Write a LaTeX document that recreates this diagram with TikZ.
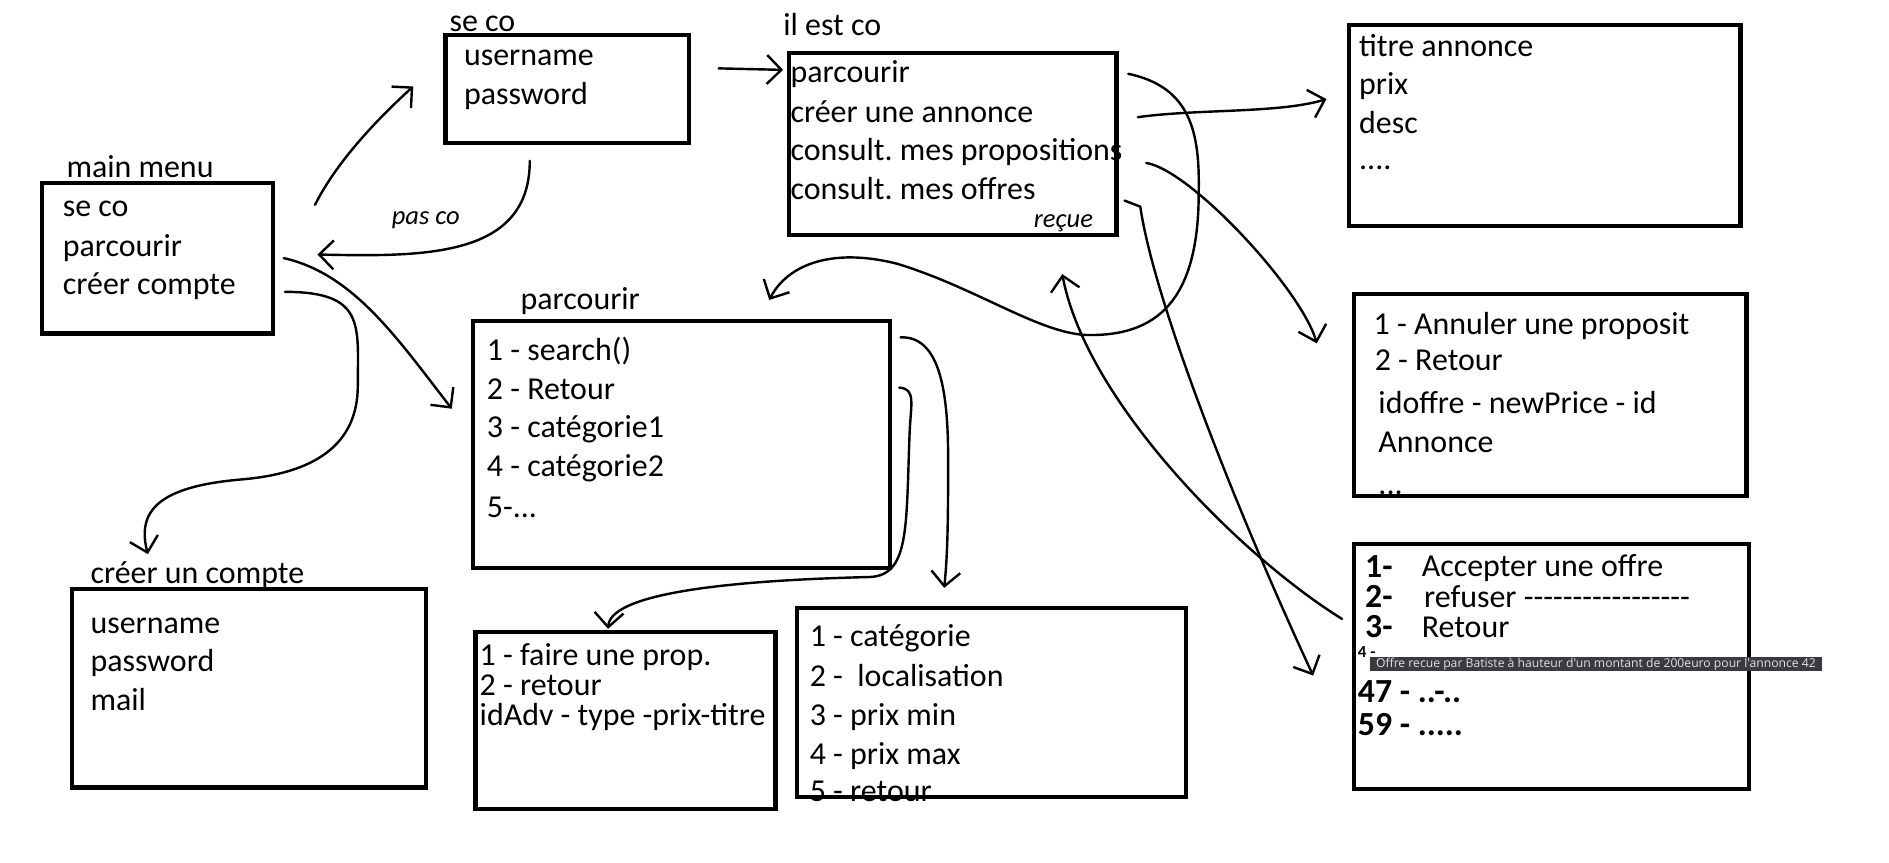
\documentclass[tikz,border=0pt]{standalone}
\usepackage{fontspec}
\setmainfont{Carlito}[Ligatures=TeXOff]
\newfontfamily\tipfont{Open Sans}
\usetikzlibrary{arrows.meta,positioning}
\tikzset{>/.tip={Straight Barb[length=12pt,width=24pt]}}
\definecolor{tipgray}{RGB}{58,59,63}
\definecolor{tiptext}{RGB}{225,225,225}

\begin{document}
\frenchspacing
\begin{tikzpicture}[x=1pt,y=-1pt,
  box/.style={draw,line width=3.5pt,anchor=north west,inner sep=0pt},
  item/.style={anchor=base west,inner sep=0pt,yshift=-8.5pt,
    font=\fontsize{26.5}{32}\selectfont},
  title/.style={anchor=west,inner sep=0pt,text height=0.75em,text depth=0.25em,
    font=\fontsize{26.5}{32}\selectfont},
  hand/.style={item,font=\fontsize{22}{26}\selectfont\itshape},
  scrawl/.style={item,font=\fontsize{28}{30}\selectfont\bfseries},
  tooltip/.style={anchor=west,fill=tipgray,text=tiptext,inner xsep=5pt,inner ysep=0pt,
    minimum height=12pt,font=\tipfont\fontsize{10.1}{11}\selectfont},
  link/.style={->,line width=2pt,line cap=round,line join=round}]
  \useasboundingbox (0,0) rectangle (1568,716);

  % boxes
  \node[box,minimum width=192pt,minimum height=125pt] (mainmenu) at (33,150) {};
  \node[box,minimum width=202pt,minimum height=90pt] (seco) at (368,27) {};
  \node[box,minimum width=272pt,minimum height=151pt] (ilestco) at (653,42) {};
  \node[box,minimum width=325pt,minimum height=167pt] (annonce) at (1118,19) {};
  \node[box,minimum width=326pt,minimum height=168pt] (propositions) at (1122,242) {};
  \node[box,minimum width=328pt,minimum height=203pt] (offres) at (1122,450) {};
  \node[box,minimum width=346pt,minimum height=205pt] (parcourir) at (391,265) {};
  \node[box,minimum width=294pt,minimum height=165pt] (creercompte) at (58,487) {};
  \node[box,minimum width=249pt,minimum height=147pt] (faireprop) at (393,523) {};
  \node[box,minimum width=323pt,minimum height=157pt] (filtres) at (660,503) {};

  % titles
  \node[title,above right=0pt and 22pt of mainmenu.north west] (mainmenutitle) {main menu};
  \node[title,above right=-2pt and 5pt of seco.north west] (secotitle) {se co};
  \node[title,above right=10pt and -3pt of ilestco.north west] (ilestcotitle) {il est co};
  \node[title,above right=5pt and 41pt of parcourir.north west] (parcourirtitle) {parcourir};
  \node[title,above right=0pt and 17pt of creercompte.north west] (creercomptetitle) {créer un compte};

  % contents
  \foreach \y/\t [count=\i] in {171/se co,204/parcourir,236/créer compte}
    \node[item] (mm\i) at (52,\y) {\t};
  \foreach \y/\t [count=\i] in {46/username,78/password}
    \node[item] (sc\i) at (385,\y) {\t};
  \foreach \y/\t [count=\i] in {60/parcourir,93/créer une annonce,
      125/consult. mes propositions,157/consult. mes offres}
    \node[item] (ic\i) at (656,\y) {\t};
  \foreach \y/\t [count=\i] in {38/titre annonce,70/prix,102/desc,132/{....}}
    \node[item] (an\i) at (1128,\y) {\t};
  \foreach \x/\y/\t [count=\i] in {1140/269/1 - Annuler une proposit,1141/299/2 - Retour,
      1144/335/idoffre - newPrice - id,1144/367/Annonce,1144/402/{...}}
    \node[item] (pr\i) at (\x,\y) {\t};
  \foreach \y/\t [count=\i] in {291/1 - search(),323/2 - Retour,355/3 - catégorie1,
      387/4 - catégorie2,421/{5-...}}
    \node[item] (pa\i) at (404,\y) {\t};
  \foreach \y/\t [count=\i] in {517/username,549/password,581/mail}
    \node[item] (cc\i) at (75,\y) {\t};
  \foreach \y/\t [count=\i] in {544/1 - faire une prop.,569/2 - retour,594/idAdv - type -prix-titre}
    \node[item] (fp\i) at (398,\y) {\t};
  \foreach \y/\t [count=\i] in {528/1 - catégorie,561/2 - \ localisation,594/3 - prix min,
      626/4 - prix max,657/5 - retour}
    \node[item] (fi\i) at (672,\y) {\t};

  \node[scrawl] (ofn1) at (1133,471) {1-};
  \node[item] (of1) at (1180,470) {Accepter une offre};
  \node[scrawl] (ofn2) at (1133,496) {2-};
  \node[item] (of2) at (1182,496) {refuser -----------------};
  \node[scrawl] (ofn3) at (1133,521) {3-};
  \node[item] (of3) at (1180,521) {Retour};
  \node[scrawl,font=\fontsize{14}{16}\selectfont\bfseries] (ofn4) at (1127,537) {4 -};
  \node[tooltip] (tip) at (1137,551)
    {Offre recue par Batiste à hauteur d'un montant de 200euro pour l'annonce 42};
  \node[scrawl] (ofn47) at (1127,575) {47 - ..-..};
  \node[scrawl] (ofn59) at (1127,602) {59 - .....};

  \node[hand] (pasco) at (325,178) {pas co};
  \node[hand] (recue) at (858,180) {reçue};

  % connectors
  \draw[link] ([shift={(33,20)}]mainmenu.north east) .. controls +(20,-40) and +(-22,20)
    .. ([shift={(-25,-2)}]seco.west);
  \draw[link] ([shift={(-31,13)}]seco.south) .. controls +(0,80) and +(90,2)
    .. ([shift={(35,-3)}]mainmenu.east);
  \draw[link] ([shift={(23,-17)}]seco.east) -- ([shift={(-3,16)}]ilestco.north west);
  \draw[link] ([shift={(7,0)}]mainmenu.east) .. controls +(58,13) and +(-45,-58)
    .. ([shift={(-16,-30)}]parcourir.west);
  \draw[link] ([shift={(8,28)}]mainmenu.east) .. controls +(67,0) and +(0,-50) .. (297,320)
    .. controls +(0,50) and +(60,-5) .. (200,398)
    .. controls +(-70,6) and +(-9,-35) .. ([shift={(-84,-27)}]creercompte.north);
  \draw[link] ([shift={(8,-58)}]ilestco.east) .. controls +(52,11) and +(1,-50) .. (995,160)
    .. controls +(0,90) and +(60,2) .. (900,278)
    .. controls +(-40,-3) and +(65,20) .. (745,219)
    .. controls +(-55,-14) and +(15,-29) .. ([shift={(-102,-16)}]parcourir.north east);
  \draw[link] ([shift={(16,-22)}]ilestco.east) .. controls +(50,-7) and +(-40,12)
    .. ([shift={(-17,-22)}]annonce.west);
  \draw[link] ([shift={(23,16)}]ilestco.east) .. controls +(37,6) and +(-13,-45)
    .. ([shift={(-29,43)}]propositions.north west);
  \draw[link] ([shift={(5,-30)}]ilestco.south east) -- ++(13,5) .. controls +(12,82) and +(-60,-129)
    .. ([shift={(-32,7.5)}]offres.west);
  \draw[link] ([shift={(-8,-39.5)}]offres.west) .. controls +(-84,-52) and +(20,106)
    .. ([shift={(91,31)}]ilestco.south);
  \draw[link] ([shift={(6,-47.5)}]parcourir.east) .. controls +(14,1) and +(1,-25) .. (755,360)
    .. controls +(-3,80) and +(35,0) .. (720,479)
    .. controls +(-80,2) and +(2,-34) .. ([shift={(-14.5,-1)}]faireprop.north);
  \draw[link] ([shift={(7,15)}]parcourir.north east) .. controls +(31,-1) and +(0,-60) .. (787,380)
    .. controls +(0,50) and +(3,-30) .. ([shift={(-39.5,-15)}]filtres.north);
\end{tikzpicture}
\end{document}
